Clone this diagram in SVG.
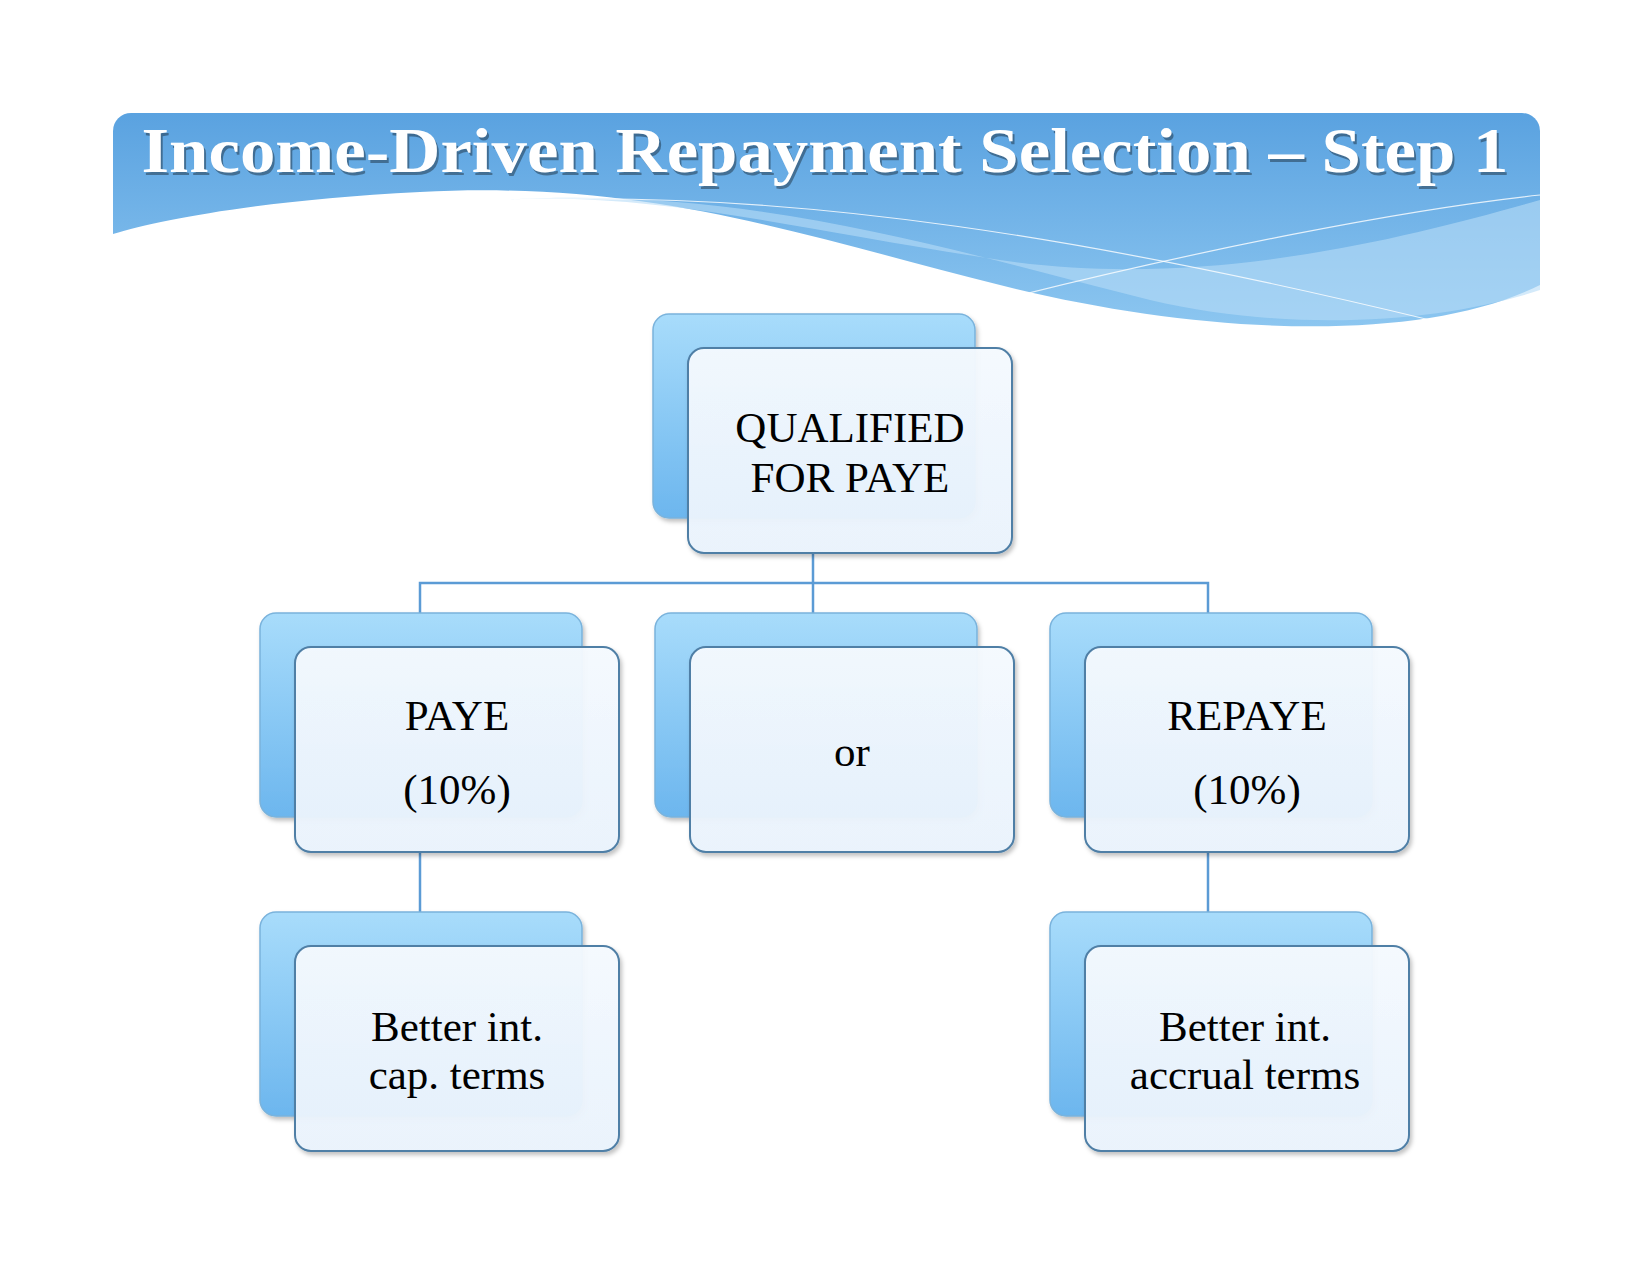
<svg xmlns="http://www.w3.org/2000/svg" width="1650" height="1275" viewBox="0 0 1650 1275">
<defs>
<linearGradient id="hdr" x1="0" y1="0" x2="0" y2="1"><stop offset="0" stop-color="#5aa2e0"/><stop offset="1" stop-color="#8cc6f0"/></linearGradient>
<linearGradient id="back" x1="0" y1="0" x2="0" y2="1"><stop offset="0" stop-color="#a8dcfb"/><stop offset="1" stop-color="#6cb6ee"/></linearGradient>
<linearGradient id="front" x1="0" y1="0" x2="0" y2="1"><stop offset="0" stop-color="#f5faff" stop-opacity="0.95"/><stop offset="1" stop-color="#eaf3fd" stop-opacity="0.95"/></linearGradient>
<filter id="sh" x="-5%" y="-5%" width="115%" height="120%"><feDropShadow dx="2" dy="3" stdDeviation="2" flood-color="#000" flood-opacity="0.25"/></filter>
<clipPath id="hc"><rect x="113" y="113" width="1427" height="230" rx="18"/></clipPath>
</defs>
<style>
.b{fill:url(#back);stroke:#7ab3dc;stroke-width:1.5;filter:url(#sh)}
.f{fill:url(#front);stroke:#4f7fa6;stroke-width:2;filter:url(#sh)}
.t{font-family:"Liberation Serif",serif;font-size:43px;fill:#000;text-anchor:middle}
.c{stroke:#5b9bd5;stroke-width:2.5;fill:none}
</style>
<g id="header">
<g clip-path="url(#hc)">
<path d="M113,113 H1540 V285 C1420,345 1200,335 1000,285 C800,235 650,180 420,192 C260,200 160,220 113,234 Z" fill="url(#hdr)"/>
<path d="M500,200 C750,185 950,250 1150,300 C1300,335 1450,320 1540,290 V200 C1400,240 1200,290 1000,260 C800,230 650,190 500,200 Z" fill="#b8dcf7" opacity="0.6"/>
<path d="M520,200 C800,190 1100,240 1430,320" stroke="#fff" stroke-width="1.2" fill="none" opacity="0.8"/>
<path d="M1000,300 C1200,250 1400,210 1540,195" stroke="#fff" stroke-width="1.2" fill="none" opacity="0.8"/>
</g>
<text x="825" y="172" font-family="Liberation Serif,serif" font-weight="bold" font-size="64" fill="#000" opacity="0.35" text-anchor="middle" textLength="1367" lengthAdjust="spacingAndGlyphs" transform="translate(2,3)">Income-Driven Repayment Selection – Step 1</text>
<text x="825" y="172" font-family="Liberation Serif,serif" font-weight="bold" font-size="64" fill="#fff" text-anchor="middle" textLength="1367" lengthAdjust="spacingAndGlyphs">Income-Driven Repayment Selection – Step 1</text>
</g>
<g id="connectors">
<path class="c" d="M813,553 V613 M420,613 V583 H1208 V613 M420,851 V912 M1208,851 V912"/>
</g>
<g id="root"><rect class="b" x="653" y="314" width="322" height="204" rx="16"/><rect class="f" x="688" y="348" width="324" height="205" rx="16"/>
<text class="t" x="850" y="442">QUALIFIED</text><text class="t" x="850" y="492">FOR PAYE</text></g>
<g id="paye"><rect class="b" x="260" y="613" width="322" height="204" rx="16"/><rect class="f" x="295" y="647" width="324" height="205" rx="16"/>
<text class="t" x="457" y="730">PAYE</text><text class="t" x="457" y="804">(10%)</text></g>
<g id="or"><rect class="b" x="655" y="613" width="322" height="204" rx="16"/><rect class="f" x="690" y="647" width="324" height="205" rx="16"/>
<text class="t" x="852" y="766">or</text></g>
<g id="repaye"><rect class="b" x="1050" y="613" width="322" height="204" rx="16"/><rect class="f" x="1085" y="647" width="324" height="205" rx="16"/>
<text class="t" x="1247" y="730">REPAYE</text><text class="t" x="1247" y="804">(10%)</text></g>
<g id="paye-detail"><rect class="b" x="260" y="912" width="322" height="204" rx="16"/><rect class="f" x="295" y="946" width="324" height="205" rx="16"/>
<text class="t" x="457" y="1041">Better int.</text><text class="t" x="457" y="1089">cap. terms</text></g>
<g id="repaye-detail"><rect class="b" x="1050" y="912" width="322" height="204" rx="16"/><rect class="f" x="1085" y="946" width="324" height="205" rx="16"/>
<text class="t" x="1245" y="1041">Better int.</text><text class="t" x="1245" y="1089">accrual terms</text></g>
</svg>
